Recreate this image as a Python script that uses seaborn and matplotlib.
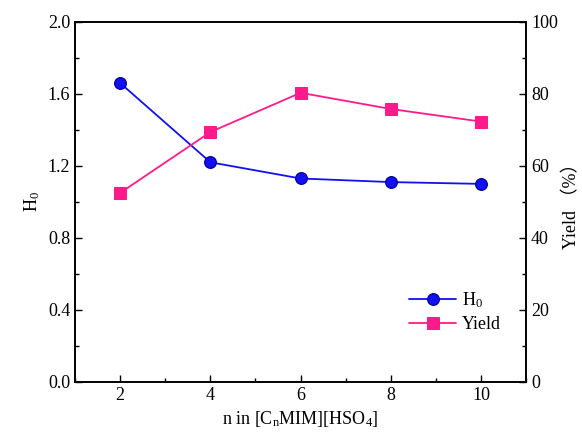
import numpy as np
import seaborn as sns
import pandas as pd
from matplotlib import pyplot as plt
from matplotlib.ticker import MultipleLocator

# data
n_values = [2, 4, 6, 8, 10]
h0_values = [1.66, 1.22, 1.13, 1.11, 1.10]
yield_values = [52.5, 69.4, 80.3, 75.8, 72.3]

sns.set_theme(style="white")
plt.rcParams['font.family'] = ['Liberation Serif', 'DejaVu Serif']
plt.rcParams['mathtext.fontset'] = 'custom'
plt.rcParams['mathtext.rm'] = 'Liberation Serif'
plt.rcParams['mathtext.it'] = 'Liberation Serif'
plt.rcParams['text.color'] = 'black'
plt.rcParams['axes.labelcolor'] = 'black'
plt.rcParams['xtick.color'] = 'black'
plt.rcParams['ytick.color'] = 'black'

blue = "#1010f0"
pink = "#ff1a8c"

df = pd.DataFrame({'n': n_values, 'H0': h0_values, 'Yield': yield_values})

fig, ax = plt.subplots(figsize=(5.82, 4.37), dpi=100)
fig.subplots_adjust(left=0.129, right=0.904, top=0.95, bottom=0.126)
ax2 = ax.twinx()

sns.lineplot(data=df, x='n', y='H0', ax=ax, color=blue, marker='o', markersize=8.5,
             markeredgecolor="#000090", markeredgewidth=0.8, linewidth=1.3, label=r'H$_\mathrm{0}$', legend=False)
sns.lineplot(data=df, x='n', y='Yield', ax=ax2, color=pink, marker='s', markersize=8,
             markeredgecolor=pink, linewidth=1.3, label='Yield', legend=False)

ax.set_xlim(1, 11)
ax.set_ylim(0, 2.0)
ax2.set_ylim(0, 100)
ax.xaxis.set_major_locator(MultipleLocator(2))
ax.xaxis.set_minor_locator(MultipleLocator(1))
ax.yaxis.set_major_locator(MultipleLocator(0.4))
ax.yaxis.set_minor_locator(MultipleLocator(0.2))
ax2.yaxis.set_major_locator(MultipleLocator(20))
ax2.yaxis.set_minor_locator(MultipleLocator(10))
ax.yaxis.set_major_formatter(plt.FuncFormatter(lambda v, p: f"{v:.1f}"))

for a in (ax, ax2):
    for s in a.spines.values():
        s.set_color('black')
        s.set_linewidth(1.2)
    a.tick_params(which='both', direction='in', colors='black', labelsize=13, width=1)
    a.tick_params(which='major', length=5)
    a.tick_params(which='minor', length=3)
ax.tick_params(which='both', bottom=True, left=True, right=False, top=False)
ax2.tick_params(which='both', right=True, left=False)

ax.set_xlabel(r'n in [C$_\mathrm{n}$MIM][HSO$_\mathrm{4}$]', fontsize=13)
ax.set_ylabel(r'H$_\mathrm{0}$', fontsize=13)
ax2.set_ylabel('Yield （%）', fontsize=13, family=['Liberation Serif', 'Noto Sans CJK SC'])

h1, l1 = ax.get_legend_handles_labels()
h2, l2 = ax2.get_legend_handles_labels()
ax2.legend(h1 + h2, l1 + l2, loc='lower right', bbox_to_anchor=(0.98, 0.09),
           frameon=False, fontsize=13, handlelength=2.6, markerfirst=True,
           labelspacing=0.35, handletextpad=0.3)

fig.savefig('out.png', dpi=100)
